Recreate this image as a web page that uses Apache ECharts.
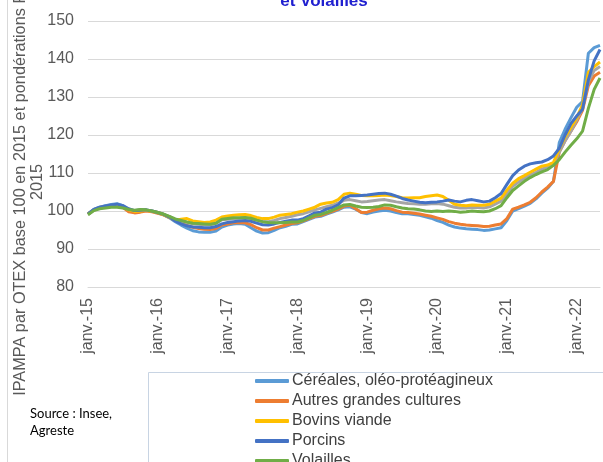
<!DOCTYPE html>
<html>
<head>
<meta charset="utf-8">
<script src="https://cdn.jsdelivr.net/npm/echarts@6/dist/echarts.min.js"></script>
<style>html,body{margin:0;padding:0;background:#fff}#c{width:603px;height:462px}</style>
</head>
<body>
<div id="c"></div>
<script>
// Tick labels (category axis built from months/years)
const monthNames = ['janv.','févr.','mars','avr.','mai','juin','juil.','août','sept.','oct.','nov.','déc.'];
const years = ['15','16','17','18','19','20','21','22'];
const lastYearMonths = 5; // janv.-22 .. mai-22
const yTicks = [80, 90, 100, 110, 120, 130, 140, 150];

const seriesNames = ['Céréales, oléo-protéagineux','Autres grandes cultures','Ensemble','Bovins viande','Porcins','Volailles'];

const cereales = [
 99.2,100.4,101.0,101.4,101.7,101.9,101.4,100.4,99.9,100.0,100.2,99.9,
 99.5,99.0,98.2,97.2,96.3,95.5,94.8,94.5,94.4,94.4,94.7,95.8,
 96.3,96.6,96.7,96.5,95.6,94.7,94.2,94.3,94.9,95.6,96.0,96.5,
 96.6,97.2,97.8,98.4,98.6,99.2,99.7,100.3,101.0,101.1,100.5,99.6,
 99.3,99.7,100.0,100.2,100.0,99.6,99.3,99.3,99.1,98.9,98.5,98.1,
 97.5,97.0,96.3,95.8,95.5,95.3,95.2,95.1,94.9,95.0,95.3,95.6,
 97.5,100.0,100.6,101.3,102.0,103.2,104.7,106.0,107.8,118.0,121.5,124.5,
 127.3,128.8,141.5,143.0,143.6];
const autres = [
 99.2,100.3,100.8,101.1,101.3,101.5,101.0,99.8,99.5,99.7,100.0,99.8,
 99.4,99.0,98.3,97.5,96.8,96.2,95.7,95.4,95.2,95.1,95.4,96.3,
 96.6,96.9,97.0,96.9,96.4,95.6,95.0,95.0,95.5,95.9,96.3,96.7,
 96.9,97.4,98.0,98.6,98.8,99.4,99.9,100.5,101.3,101.5,100.6,99.6,
 99.7,100.2,100.6,100.8,100.6,100.1,99.7,99.6,99.4,99.2,98.9,98.6,
 98.2,97.8,97.2,96.8,96.5,96.3,96.2,96.1,95.9,96.0,96.3,96.6,
 98.0,100.5,101.0,101.6,102.3,103.5,105.0,106.3,107.8,115.5,118.5,121.0,
 123.5,126.5,133.0,135.5,136.5];
const ensemble = [
 99.1,100.2,100.8,101.0,101.2,101.3,101.0,100.4,100.1,100.3,100.3,100.0,
 99.6,99.1,98.5,97.7,97.3,97.0,96.6,96.5,96.4,96.4,96.8,97.7,
 97.8,98.0,98.1,98.2,98.0,97.6,97.2,97.2,97.5,98.0,98.3,98.6,
 99.0,99.3,99.8,100.3,100.7,101.1,101.5,102.1,102.8,103.0,102.7,102.4,
 102.5,102.7,102.9,103.0,102.7,102.4,102.2,102.0,101.9,101.8,101.8,101.9,
 102.0,101.8,101.4,101.0,100.8,100.8,101.0,100.9,100.8,101.1,101.8,102.6,
 104.5,106.5,107.6,108.6,109.5,110.2,111.0,111.6,112.3,115.5,118.5,121.0,
 124.0,127.0,134.0,137.0,138.0];
const bovins = [
 99.2,100.3,100.9,101.2,101.4,101.6,101.2,100.3,99.9,100.0,100.2,99.9,
 99.6,99.0,98.3,97.6,97.8,98.0,97.4,97.2,97.0,97.1,97.6,98.4,
 98.7,98.9,99.0,99.1,98.8,98.3,98.0,98.0,98.4,98.9,99.1,99.3,
 99.7,100.0,100.5,101.0,101.8,102.1,102.3,103.0,104.4,104.7,104.4,104.1,
 104.0,104.0,104.1,104.2,104.1,103.8,103.5,103.4,103.5,103.5,103.8,104.0,
 104.2,103.8,102.8,101.8,101.5,101.4,101.6,101.5,101.5,101.8,102.6,103.4,
 105.5,107.3,108.5,109.3,110.2,111.0,111.8,112.1,112.8,116.3,119.5,122.0,
 124.5,128.0,136.5,138.0,139.2];
const porcins = [
 99.2,100.4,101.0,101.3,101.6,101.8,101.4,100.6,100.1,100.2,100.3,100.0,
 99.6,99.1,98.4,97.4,96.6,96.1,95.8,95.7,95.6,95.6,95.9,96.6,
 97.0,97.2,97.4,97.5,97.3,96.8,96.4,96.3,96.6,97.0,97.3,97.6,
 97.6,98.0,98.7,99.5,99.7,100.5,100.9,101.6,103.4,104.0,104.0,104.1,
 104.2,104.4,104.6,104.7,104.4,103.9,103.3,102.9,102.6,102.3,102.2,102.3,
 102.4,102.6,102.9,102.6,102.4,102.8,103.0,102.7,102.4,102.6,103.5,104.6,
 107.0,109.3,110.8,111.8,112.4,112.7,112.9,113.5,114.5,116.5,120.0,123.0,
 125.0,126.8,134.5,139.5,142.5];
const volailles = [
 99.0,100.1,100.6,100.8,101.0,101.0,100.8,100.4,100.2,100.4,100.3,100.0,
 99.6,99.2,98.6,97.9,97.5,97.1,96.8,96.7,96.6,96.5,96.8,97.8,
 98.0,98.2,98.2,98.3,98.1,97.6,97.2,97.0,96.9,96.9,97.0,97.1,
 97.1,97.5,98.2,98.9,99.1,99.6,100.2,100.9,101.6,101.7,101.3,101.0,
 100.9,101.0,101.2,101.6,101.5,101.1,100.8,100.6,100.5,100.3,100.0,99.9,
 100.0,99.9,100.0,99.9,99.7,99.8,100.0,99.9,99.8,100.0,100.6,101.4,
 103.5,105.4,106.6,107.8,108.8,109.6,110.3,110.9,112.0,113.5,115.5,117.3,
 119.0,121.0,127.0,132.0,135.0];

const colors = ['#5B9BD5','#ED7D31','#A5A5A5','#FFC000','#4472C4','#70AD47'];
const values = [cereales, autres, ensemble, bovins, porcins, volailles];

const categories = [];
years.forEach((y, yi) => {
  const n = yi === years.length - 1 ? lastYearMonths : 12;
  for (let m = 0; m < n; m++) categories.push(monthNames[m] + '-' + y);
});

const chart = echarts.init(document.getElementById('c'), null, {renderer: 'canvas'});
chart.setOption({
  animation: false,
  backgroundColor: '#fff',
  grid: {left: 88, right: 3, top: 21, bottom: 175, containLabel: false},
  xAxis: {
    type: 'category', data: categories, boundaryGap: false,
    axisLine: {show: true, lineStyle: {color: '#d9d9d9', width: 1}},
    axisTick: {show: false},
    axisLabel: {interval: 11, rotate: 90, margin: 11, color: '#595959',
      fontFamily: 'Liberation Sans, Arial, sans-serif', fontSize: 16},
    splitLine: {show: false}
  },
  yAxis: {
    type: 'value', min: yTicks[0], max: yTicks[yTicks.length-1], interval: 10,
    axisLine: {show: false}, axisTick: {show: false},
    axisLabel: {margin: 14, color: '#595959', fontFamily: 'Liberation Sans, Arial, sans-serif', fontSize: 16},
    splitLine: {lineStyle: {color: '#d9d9d9', width: 1}}
  },
  legend: {
    data: ['Céréales, oléo-protéagineux','Autres grandes cultures','Bovins viande','Porcins','Volailles'],
    orient: 'vertical', left: 255, top: 373, height: 300, padding: 0, itemGap: 4,
    itemWidth: 34, itemHeight: 4, icon: 'roundRect',
    textStyle: {color: '#404040', fontFamily: 'Liberation Sans, Arial, sans-serif', fontSize: 16, lineHeight: 16, padding: [0,0,0,-2]}
  },
  graphic: [
    {type: 'line', shape: {x1: 7.5, y1: 0, x2: 7.5, y2: 462}, style: {stroke: '#d9d9d9', lineWidth: 1}},
    {type: 'rect', shape: {x: 148.5, y: 372.5, width: 500, height: 200}, style: {fill: 'none', stroke: '#c8d4e3', lineWidth: 1}},
    {type: 'text', x: 324, y: 10, style: {text: 'et Volailles', textAlign: 'center', textVerticalAlign: 'bottom',
      font: 'bold 17px "Liberation Sans", Arial, sans-serif', fill: '#2020d0'}},
    {type: 'text', x: 21, y: 178, rotation: Math.PI/2, style: {text: 'IPAMPA par OTEX base 100 en 2015 et pondérations FADN',
      textAlign: 'center', textVerticalAlign: 'middle', font: '16.3px "Liberation Sans", Arial, sans-serif', fill: '#595959'}},
    {type: 'text', x: 38, y: 182, rotation: Math.PI/2, style: {text: '2015',
      textAlign: 'center', textVerticalAlign: 'middle', font: '16.3px "Liberation Sans", Arial, sans-serif', fill: '#595959'}},
    {type: 'text', x: 30, y: 405, style: {text: 'Source : Insee,\nAgreste', textAlign: 'left', textVerticalAlign: 'top',
      font: '13px Lato, sans-serif', lineHeight: 17, fill: '#000'}}
  ],
  series: values.map((v, k) => ({
    name: seriesNames[k], type: 'line', data: v, showSymbol: false, symbol: 'none',
    lineStyle: {width: 3, color: colors[k], join: 'round'}, itemStyle: {color: colors[k]},
    smooth: false
  }))
});
</script>
</body>
</html>
